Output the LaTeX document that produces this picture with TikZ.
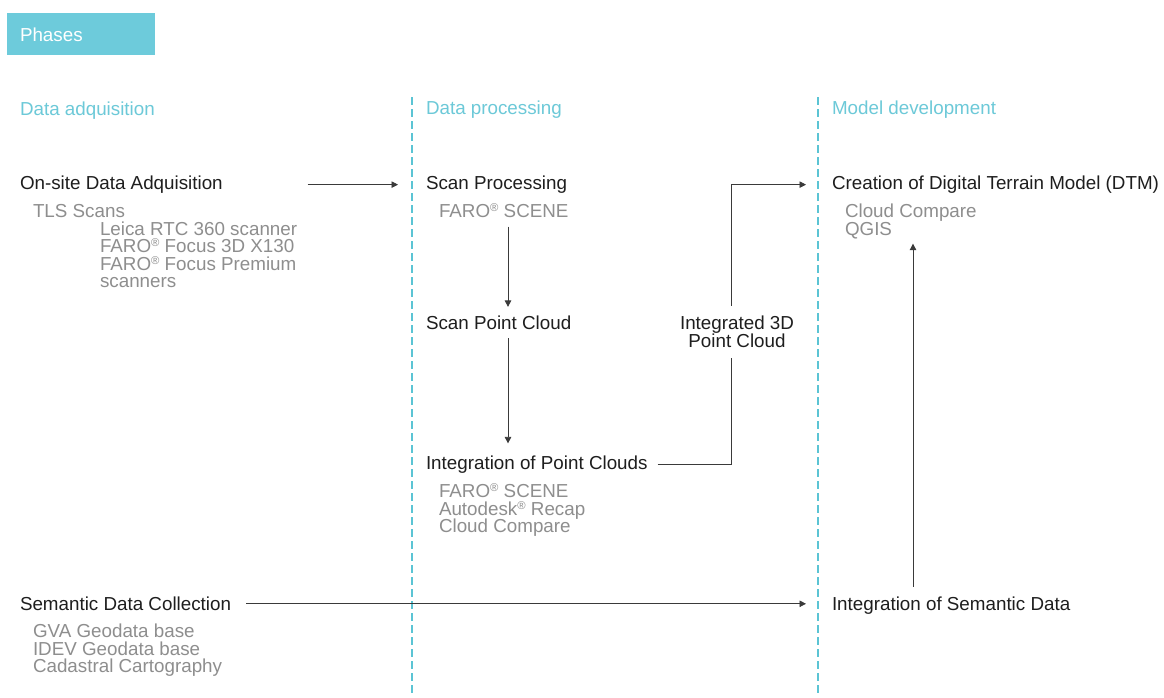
\documentclass[tikz,border=0pt]{standalone}
\usepackage{fontspec}
\setmainfont{Liberation Sans}
\usetikzlibrary{arrows.meta}
\definecolor{cyanph}{HTML}{6DCBDB}
\definecolor{cyantxt}{HTML}{6CC9D8}
\definecolor{dashcol}{HTML}{5BC4D4}
\definecolor{greytxt}{HTML}{8E8E8E}
\definecolor{blacktxt}{HTML}{1E1E1E}
\definecolor{linecol}{HTML}{3A3A3A}
\newcommand{\regmark}{\raisebox{0.6ex}{\scalebox{0.6}{®}}}
\begin{document}
\begin{tikzpicture}[x=1pt,y=-1pt,
  every node/.style={inner sep=0pt,outer sep=0pt,font=\fontsize{18.8}{17.6}\selectfont},
  main/.style={anchor=base west,text=blacktxt},
  sub/.style={anchor=base west,text=greytxt},
  head/.style={anchor=base west,text=cyantxt},
  conn/.style={draw=linecol,line width=0.8pt},
  arr/.style={conn,-{Triangle[length=6.5pt,width=6.5pt]}},
  phase/.style={draw=dashcol,line width=2.2pt,dash pattern=on 7.5pt off 4.5pt}
  ]
\useasboundingbox[fill=white] (0,0) rectangle (1164,697);
% Phases box
\fill[cyanph] (7,13) rectangle (155,55);
\node[anchor=base west,text=white] (phases) at (20,41.5) {Phases};
% dashed phase separators
\coordinate (d1t) at (412,97); \coordinate (d1b) at (412,697);
\coordinate (d2t) at (818,97); \coordinate (d2b) at (818,697);
\draw[phase] (d1t) -- (d1b);
\draw[phase] (d2t) -- (d2b);
% headers
\node[head] (h1) at (20,115.5) {Data adquisition};
\node[head] (h2) at (426,114.5) {Data processing};
\node[head] (h3) at (832,114.5) {Model development};
% column 1
\node[main] (onsite) at (20,189.5) {On-site Data Adquisition};
\node[sub] (tls) at (33,217.5) {TLS Scans};
\node[sub] (leica) at (100,235) {Leica RTC 360 scanner};
\node[sub] (focus3d) at (100,252.6) {FARO\regmark{} Focus 3D X130};
\node[sub] (focusp) at (100,270.2) {FARO\regmark{} Focus Premium};
\node[sub] (scanners) at (100,287.8) {scanners};
\node[main] (semantic) at (20,610.5) {Semantic Data Collection};
\node[sub] (gva) at (33,637.5) {GVA Geodata base};
\node[sub] (idev) at (33,655.1) {IDEV Geodata base};
\node[sub] (cadas) at (33,672.7) {Cadastral Cartography};
% column 2
\node[main] (scanproc) at (426,189.5) {Scan Processing};
\node[sub] (faro1) at (439,217.5) {FARO\regmark{} SCENE};
\node[main] (scanpc) at (426,329.5) {Scan Point Cloud};
\node[main] (intpc) at (426,469.5) {Integration of Point Clouds};
\node[sub] (faro2) at (439,497.5) {FARO\regmark{} SCENE};
\node[sub] (autodesk) at (439,515.1) {Autodesk\regmark{} Recap};
\node[sub] (cc1) at (439,532.7) {Cloud Compare};
\node[text=blacktxt,align=center] (ipc) at (737,331.5) {Integrated 3D\\Point Cloud};
% column 3
\node[main] (dtm) at (832,189.5) {Creation of Digital Terrain Model (DTM)};
\node[sub] (cc2) at (845,217.5) {Cloud Compare};
\node[sub] (qgis) at (845,235.1) {QGIS};
\node[main] (intsem) at (832,610.5) {Integration of Semantic Data};
% connectors
\coordinate (vx) at (508,0);
\coordinate (vx2) at (913,0);
\draw[arr,shorten <=85pt,shorten >=28pt] (onsite.east) -- (onsite.east -| scanproc.west);
\draw[arr,shorten <=9pt,shorten >=9pt] (faro1.south -| vx) -- (scanpc.north -| vx);
\draw[arr,shorten <=8.5pt,shorten >=12.5pt] (scanpc.south -| vx) -- (intpc.north -| vx);
\draw[conn,shorten <=10pt] (intpc.east) -| ([xshift=-6pt,yshift=-11pt]ipc.south);
\draw[arr,shorten >=26pt] ([xshift=-6pt,yshift=10pt]ipc.north) |- (dtm.west);
\draw[arr,shorten <=15pt,shorten >=26pt] (semantic.east) -- (semantic.east -| intsem.west);
\draw[arr,shorten <=10pt,shorten >=5pt] (intsem.north -| vx2) -- (qgis.south -| vx2);
\end{tikzpicture}
\end{document}
